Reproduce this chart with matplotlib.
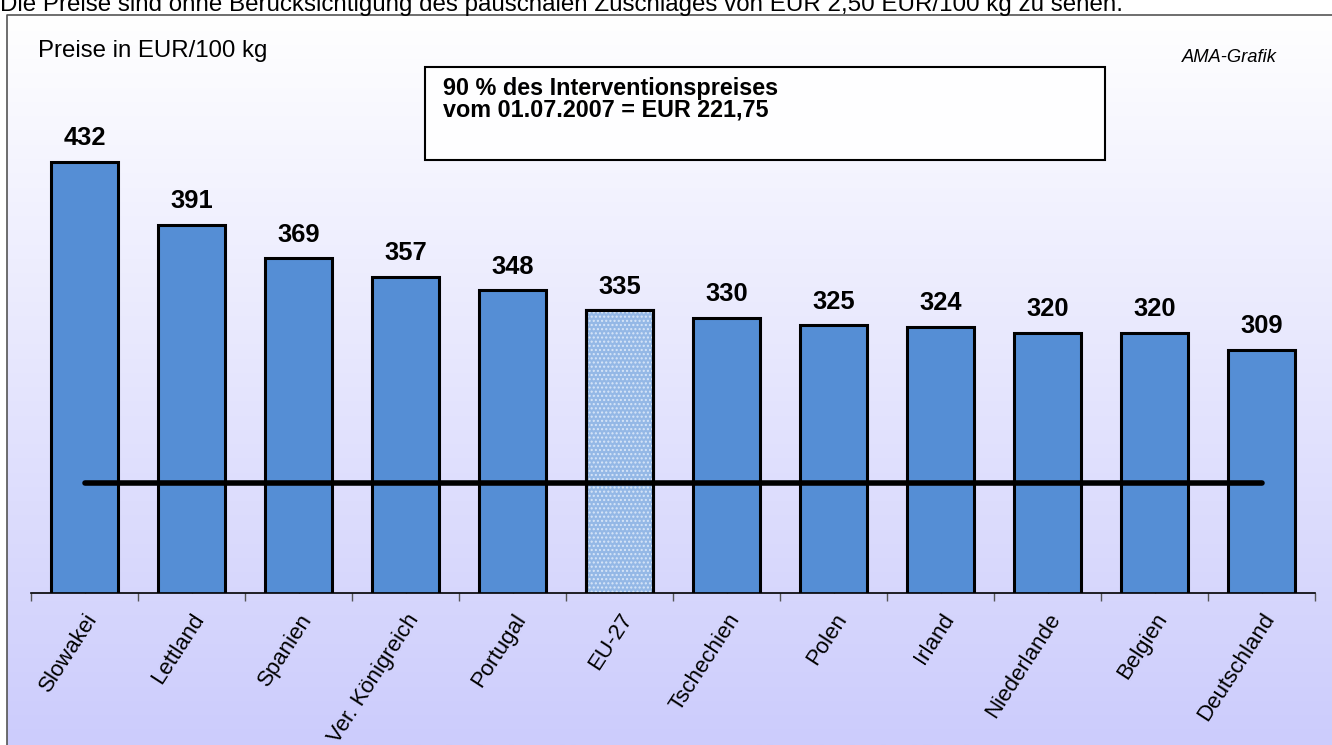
import matplotlib.pyplot as plt
import numpy as np
from matplotlib.patches import Rectangle
from matplotlib.colors import LinearSegmentedColormap

plt.rcParams['font.family'] = ['Liberation Sans', 'DejaVu Sans']

laender = ["Slowakei", "Lettland", "Spanien", "Ver. Königreich", "Portugal", "EU-27",
           "Tschechien", "Polen", "Irland", "Niederlande", "Belgien", "Deutschland"]
preise = [432, 391, 369, 357, 348, 335, 330, 325, 324, 320, 320, 309]
interventionspreis = 221.75

W, H = 1332, 745
fig = plt.figure(figsize=(W / 100, H / 100), dpi=100)

# background: white strip on top, gradient panel with grey frame below
bg = fig.add_axes([0, 0, 1, 1], zorder=-10)
bg.set_xlim(0, W)
bg.set_ylim(H, 0)
bg.axis('off')
grad = np.linspace(0, 1, 256).reshape(-1, 1)
cmap = LinearSegmentedColormap.from_list('lav', ['#ffffff', '#ccccfc'])
bg.imshow(grad, cmap=cmap, extent=[7, W, H, 15], aspect='auto', zorder=0)
bg.plot([7, 7, W], [H, 15, 15], color='#555555', lw=1.2, zorder=1)

# text box
bg.add_patch(Rectangle((425, 67), 680, 93, facecolor='#fefeff', edgecolor='black', lw=1.5, zorder=2))
bg.text(443, 95, "90 % des Interventionspreises", fontsize=16.8, fontweight='bold', va='baseline', zorder=3)
bg.text(443, 117, "vom 01.07.2007 = EUR 221,75", fontsize=16.8, fontweight='bold', va='baseline', zorder=3)

bg.text(38, 57, "Preise in EUR/100 kg", fontsize=17.3, va='baseline')
bg.text(1277, 62, "AMA-Grafik", fontsize=13.2, style='italic', ha='right', va='baseline')
# note line at the very top is cut off in the original graphic
bg.text(0, 11, "Die Preise sind ohne Berücksichtigung des pauschalen Zuschlages von EUR 2,50 EUR/100 kg zu sehen.",
        fontsize=17.4, va='baseline', clip_on=False)

# chart axes
ymin, ymax = 150, 450
ax = fig.add_axes([31 / W, (H - 593) / H, 1284 / W, (593 - 134.4) / H])
ax.patch.set_alpha(0)
x = np.arange(len(laender))
farben = ['#558ed5'] * len(laender)
farben[5] = '#94b8e6'
ax.bar(x, preise, width=0.62, color=farben, edgecolor='black', linewidth=2.2, zorder=2)
# checkered pattern for EU-27
ax.bar(x[5], preise[5], width=0.62, color='none', edgecolor='#d8e6f8', linewidth=0, hatch='....', zorder=2.5)
ax.bar(x[5], preise[5], width=0.62, color='none', edgecolor='black', linewidth=2.2, zorder=2.6)

for xi, v in zip(x, preise):
    ax.annotate(str(v), (xi, v), xytext=(0, 12), textcoords='offset points',
                ha='center', va='baseline', fontsize=18.4, fontweight='bold', clip_on=False)

ax.plot([x[0], x[-1]], [interventionspreis, interventionspreis], color='black', lw=4,
        solid_capstyle='round', zorder=4)

ax.set_xlim(-0.5, len(laender) - 0.5)
ax.set_ylim(ymin, ymax)
for s in ['top', 'right', 'left']:
    ax.spines[s].set_visible(False)
ax.spines['bottom'].set_linewidth(1.2)
ax.spines['bottom'].set_zorder(5)
ax.set_yticks([])
ax.set_xticks(np.arange(len(laender) + 1) - 0.5)
ax.set_xticklabels([])
ax.tick_params(axis='x', which='major', direction='out', length=6, width=1, color='#555555')
ax.set_xticks(x, minor=True)
ax.set_xticklabels(laender, minor=True, rotation=57, ha='right', va='top', rotation_mode='anchor', fontsize=16)
ax.tick_params(axis='x', which='minor', direction='in', length=4, width=1, color='#777777', pad=12)

fig.savefig('out.png', dpi=100)
